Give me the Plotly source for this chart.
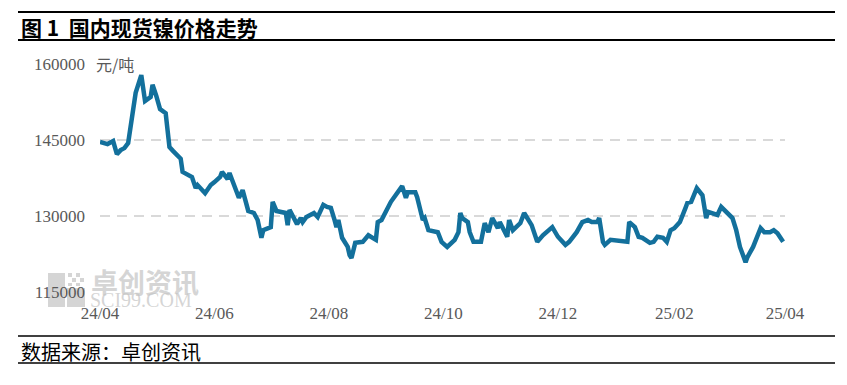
import plotly.graph_objects as go

# ---- data ----
dates = [
    "2024-04-01", "2024-04-03", "2024-04-05", "2024-04-08", "2024-04-10", "2024-04-12",
    "2024-04-14", "2024-04-16", "2024-04-18", "2024-04-20", "2024-04-23", "2024-04-25",
    "2024-04-28", "2024-04-29", "2024-05-01", "2024-05-03", "2024-05-06", "2024-05-08",
    "2024-05-10", "2024-05-14", "2024-05-15", "2024-05-18", "2024-05-20", "2024-05-22",
    "2024-05-23", "2024-05-27", "2024-05-30", "2024-06-01", "2024-06-04", "2024-06-05",
    "2024-06-08", "2024-06-09", "2024-06-11", "2024-06-14", "2024-06-16", "2024-06-19",
    "2024-06-22", "2024-06-24", "2024-06-26", "2024-06-27", "2024-07-01", "2024-07-02",
    "2024-07-04", "2024-07-09", "2024-07-10", "2024-07-11", "2024-07-13", "2024-07-15",
    "2024-07-17", "2024-07-18", "2024-07-20", "2024-07-24", "2024-07-26", "2024-07-29",
    "2024-07-31", "2024-08-02", "2024-08-04", "2024-08-05", "2024-08-06", "2024-08-08",
    "2024-08-11", "2024-08-12", "2024-08-13", "2024-08-15", "2024-08-19", "2024-08-22",
    "2024-08-26", "2024-08-27", "2024-08-29", "2024-09-01", "2024-09-03", "2024-09-09",
    "2024-09-11", "2024-09-12", "2024-09-16", "2024-09-17", "2024-09-20", "2024-09-21",
    "2024-09-23", "2024-09-28", "2024-09-30", "2024-10-03", "2024-10-06", "2024-10-07",
    "2024-10-09", "2024-10-10", "2024-10-11", "2024-10-14", "2024-10-15", "2024-10-17",
    "2024-10-21", "2024-10-23", "2024-10-25", "2024-10-27", "2024-10-30", "2024-10-31",
    "2024-11-04", "2024-11-05", "2024-11-07", "2024-11-11", "2024-11-13", "2024-11-17",
    "2024-11-20", "2024-11-23", "2024-11-28", "2024-12-01", "2024-12-05", "2024-12-07",
    "2024-12-11", "2024-12-14", "2024-12-17", "2024-12-19", "2024-12-22", "2024-12-23",
    "2024-12-25", "2024-12-26", "2024-12-29", "2025-01-07", "2025-01-08", "2025-01-11",
    "2025-01-13", "2025-01-15", "2025-01-19", "2025-01-21", "2025-01-23", "2025-01-26",
    "2025-01-28", "2025-01-30", "2025-02-01", "2025-02-04", "2025-02-07", "2025-02-08",
    "2025-02-10", "2025-02-13", "2025-02-16", "2025-02-17", "2025-02-18", "2025-02-19",
    "2025-02-24", "2025-02-26", "2025-03-03", "2025-03-04", "2025-03-06", "2025-03-08",
    "2025-03-11", "2025-03-12", "2025-03-15", "2025-03-19", "2025-03-21", "2025-03-24",
    "2025-03-26", "2025-03-28", "2025-03-31",
]
prices = [
    144600, 144400, 144200, 144800, 142200, 143000,
    143400, 144400, 148900, 154300, 157800, 152700,
    153500, 155900, 153700, 151100, 150300, 143600,
    142800, 141300, 138700, 138100, 137700, 135500,
    136100, 134500, 136100, 136700, 137700, 138700,
    137300, 138500, 136700, 133600, 135100, 131000,
    130600, 129200, 125700, 127200, 127800, 132800,
    131000, 130600, 128200, 131200, 129800, 128400,
    129600, 128800, 129800, 130600, 129800, 132200,
    131800, 131600, 129200, 127800, 129200, 125700,
    123900, 122300, 121700, 124700, 124900, 126200,
    125300, 128800, 129200, 131600, 132800, 135900,
    133600, 134700, 134700, 133700, 129200, 129600,
    127200, 126800, 124900, 123900, 124900, 125300,
    126800, 130600, 129600, 128800, 126800, 124900,
    124900, 128600, 126800, 129600, 127600, 128800,
    125900, 129200, 127200, 128600, 130600, 128200,
    124900, 126200, 127800, 125900, 124300, 124900,
    126800, 128800, 129200, 128800, 128800, 129600,
    124900, 124300, 125300, 124900, 128800, 127800,
    125900, 125700, 124700, 124900, 125900, 125700,
    124900, 127200, 127600, 128800, 131600, 132600,
    132800, 135500, 134100, 131200, 129600, 130800,
    130200, 131800, 130200, 129600, 127200, 123900,
    120900, 121900, 123900, 127600, 126800, 126800,
    127200, 126600, 124900,
]
y_ticks = [115000, 130000, 145000, 160000]
x_tick_dates = ["2024-04-01", "2024-06-01", "2024-08-01", "2024-10-01",
                "2024-12-01", "2025-02-01", "2025-04-01"]
x_tick_labels = ["24/04", "24/06", "24/08", "24/10", "24/12", "25/02", "25/04"]
title_text = "图 1  国内现货镍价格走势"
unit_text = "元/吨"
source_text = "数据来源：卓创资讯"
watermark_cn = "卓创资讯"
watermark_en = "SCI99.COM"

# ---- figure ----
W, H = 847, 385
L, R, T, B = 100, 62, 64, 93
PW, PH = W - L - R, H - T - B


def px_x(x):
    return (x - L) / PW


def px_y(y):
    return (H - B - y) / PH


LABEL_FONT = dict(family="Liberation Serif", size=17, color="#595959")
CJK = "Noto Sans CJK SC"

fig = go.Figure(
    go.Scatter(
        x=dates, y=prices, mode="lines",
        line=dict(color="#13709c", width=4.5),
        hoverinfo="skip",
    )
)

fig.update_layout(
    width=W, height=H,
    margin=dict(l=L, r=R, t=T, b=B, autoexpand=False),
    paper_bgcolor="white", plot_bgcolor="white",
    showlegend=False,
)
fig.update_xaxes(
    type="date", automargin=False,
    range=["2024-04-01", "2025-04-01"],
    tickmode="array", tickvals=x_tick_dates, ticktext=x_tick_labels,
    showgrid=False, zeroline=False, showline=False, ticks="",
    tickfont=LABEL_FONT, ticklabelstandoff=9,
)
fig.update_yaxes(
    automargin=False,
    range=[115000, 160000],
    tickmode="array", tickvals=y_ticks, ticktext=[str(v) for v in y_ticks],
    showgrid=True, gridcolor="#d9d9d9", gridwidth=2, griddash="10px,7px",
    zeroline=False, showline=False, ticks="",
    tickfont=LABEL_FONT, ticklabelstandoff=14,
)

shapes = []
# horizontal rules (title + source)
for y, w in [(12, 2), (40, 2), (336, 1.5), (363, 1.5)]:
    shapes.append(dict(type="line", xref="paper", yref="paper",
                       x0=px_x(18), x1=px_x(835), y0=px_y(y), y1=px_y(y),
                       line=dict(color="black", width=w)))
# watermark logo blocks
wm = "rgba(195,195,195,0.7)"
for (x0, x1, y0, y1) in [(48, 65, 273, 307), (67, 85, 288, 307),
                         (68, 72, 273, 277), (76, 80, 273, 277),
                         (72, 76, 278, 282), (80, 84, 278, 282),
                         (68, 72, 283, 286), (76, 80, 283, 286)]:
    shapes.append(dict(type="rect", xref="paper", yref="paper", layer="below",
                       x0=px_x(x0), x1=px_x(x1), y0=px_y(y0), y1=px_y(y1),
                       line=dict(width=0), fillcolor=wm))
fig.update_layout(shapes=shapes)

annotations = [
    dict(text="<b>" + title_text + "</b>", xref="paper", yref="paper",
         x=px_x(19), y=px_y(27), xanchor="left", yanchor="middle",
         showarrow=False, font=dict(family=CJK, size=21, color="black")),
    dict(text=source_text, xref="paper", yref="paper",
         x=px_x(19), y=px_y(351), xanchor="left", yanchor="middle",
         showarrow=False, font=dict(family=CJK, size=20, color="black")),
    dict(text=unit_text, xref="paper", yref="y",
         x=px_x(94), y=160000, xanchor="left", yanchor="middle",
         showarrow=False, bgcolor="white", borderpad=1,
         font=dict(family=CJK, size=16, color="#595959")),
    dict(text="<b>" + watermark_cn + "</b>", xref="paper", yref="paper",
         x=px_x(89), y=px_y(281), xanchor="left", yanchor="middle",
         showarrow=False, font=dict(family=CJK, size=27, color=wm)),
    dict(text=watermark_en, xref="paper", yref="paper",
         x=px_x(88), y=px_y(300), xanchor="left", yanchor="middle",
         showarrow=False, font=dict(family="Liberation Serif", size=20, color=wm)),
]
fig.update_layout(annotations=annotations)

fig.write_html(
    "out.html",
    config={"displayModeBar": False},
    post_script="document.body.style.margin='0';document.body.style.padding='0';",
)
